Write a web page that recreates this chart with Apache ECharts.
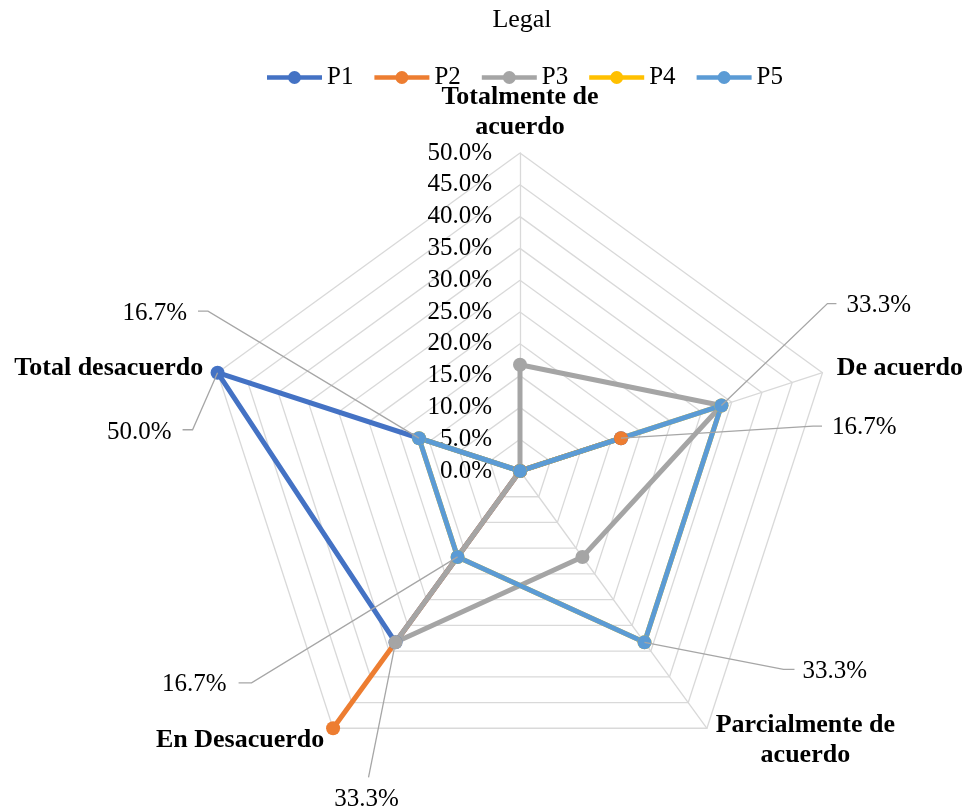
<!DOCTYPE html>
<html>
<head>
<meta charset="utf-8">
<script src="https://cdn.jsdelivr.net/npm/echarts@6/dist/echarts.min.js"></script>
<style>
  html, body { margin: 0; padding: 0; background: #ffffff; }
  #chart { width: 969px; height: 812px; }
</style>
</head>
<body>
<div id="chart"></div>
<script>
// Survey answers (share of respondents, %), one array per question
const categories = ['Totalmente de\nacuerdo', 'De acuerdo', 'Parcialmente de\nacuerdo', 'En Desacuerdo', 'Total desacuerdo'];
const seriesNames = ['P1', 'P2', 'P3', 'P4', 'P5'];
const p1 = [0, 16.7, 0, 33.3, 50.0];
const p2 = [0, 16.7, 0, 50.0, 0];
const p3 = [16.7, 33.3, 16.7, 33.3, 0];
const p4 = [0, 33.3, 33.3, 16.7, 16.7];
const p5 = [0, 33.3, 33.3, 16.7, 16.7];
const tickValues = [0, 5, 10, 15, 20, 25, 30, 35, 40, 45, 50];

// Values that carry a callout label: which question, which answer
const labelledSeries = [4, 1, 4, 2, 4, 0, 4];
const labelledCategories = [1, 1, 2, 3, 3, 4, 4];

const allSeries = [p1, p2, p3, p4, p5];
const colors = ['#4472C4', '#ED7D31', '#A5A5A5', '#FFC000', '#5B9BD5'];
const FONT = '"Liberation Serif", "Times New Roman", serif';

// Radar axes run counter-clockwise in ECharts, so the categories are
// laid out in this order to read clockwise from the top.
const radarOrder = [0, 4, 3, 2, 1];
const dimOf = c => radarOrder.indexOf(c);

// Callout geometry, relative to the labelled point: elbow, tail end, text anchor
const calloutLayout = [
  { elbow: [106, -102], end: [115, -102], text: [125, -100], align: 'left' },
  { elbow: [192, -12], end: [201, -12], text: [211, -11], align: 'left' },
  { elbow: [139, 27], end: [150, 27], text: [158, 29], align: 'left' },
  { elbow: [-27, 135], end: [-27, 135], text: [-29, 157], align: 'center' },
  { elbow: [-206, 126], end: [-219, 126], text: [-231, 128], align: 'right' },
  { elbow: [-25, 57], end: [-35, 57], text: [-46, 60], align: 'right' },
  { elbow: [-211, -127], end: [-221, -127], text: [-232, -125], align: 'right' }
];

const fmtPct = v => v.toFixed(1) + '%';
const maxVal = tickValues[tickValues.length - 1];

const indicator = radarOrder.map((c, k) => {
  const ind = { name: categories[c], min: tickValues[0], max: maxVal };
  if (k === 0) {
    ind.nameGap = 11;
    ind.axisLabel = {
      show: true,
      margin: 28,
      color: '#000000',
      fontFamily: FONT,
      fontSize: 25,
      formatter: v => fmtPct(Number(v))
    };
  }
  return ind;
});

const legendIcon = 'path://M0,4.2H55V8.8H0Z M21,6.5A6.5,6.5 0 1 1 34,6.5A6.5,6.5 0 1 1 21,6.5Z';

const chart = echarts.init(document.getElementById('chart'), null, { renderer: 'canvas' });

const option = {
  animation: false,
  backgroundColor: '#ffffff',
  title: {
    text: 'Legal',
    left: 517,
    top: 2,
    textAlign: 'center',
    textStyle: { fontFamily: FONT, fontSize: 26, fontWeight: 'normal', color: '#000000' }
  },
  legend: {
    top: 60,
    left: 262,
    data: seriesNames,
    icon: legendIcon,
    itemWidth: 55,
    itemHeight: 13,
    itemGap: 21,
    textStyle: { fontFamily: FONT, fontSize: 25, color: '#000000' },
    selectedMode: false
  },
  radar: {
    center: [520, 471],
    radius: 318,
    startAngle: 90,
    shape: 'polygon',
    splitNumber: tickValues.length - 1,
    nameGap: 15,
    indicator: indicator,
    axisName: {
      color: '#000000',
      fontFamily: FONT,
      fontSize: 26,
      fontWeight: 'bold',
      formatter: name => name.split('\n').map(l => '{n|' + l + '}').join('\n'),
      rich: {
        n: { fontFamily: FONT, fontSize: 26, fontWeight: 'bold', color: '#000000', align: 'center', lineHeight: 30 }
      }
    },
    axisLine: { lineStyle: { color: '#D9D9D9', width: 1.3 } },
    splitLine: { lineStyle: { color: '#D9D9D9', width: 1.3 } },
    splitArea: { show: false },
    axisTick: { show: false },
    axisLabel: { show: false }
  },
  series: allSeries.map((vals, i) => ({
    type: 'radar',
    name: seriesNames[i],
    symbol: 'circle',
    symbolSize: 14,
    itemStyle: { color: colors[i] },
    lineStyle: { color: colors[i], width: 5 },
    emphasis: { disabled: true },
    data: [{ name: seriesNames[i], value: radarOrder.map(c => vals[c]) }]
  }))
};

chart.setOption(option);

// Callout labels with leader lines, anchored at the points the radar scale gives
const radarCS = chart.getModel().getComponent('radar', 0).coordinateSystem;
const graphics = [];
labelledSeries.forEach((s, i) => {
  const c = labelledCategories[i];
  const v = allSeries[s][c];
  const pt = radarCS.dataToPoint(v, dimOf(c));
  const L = calloutLayout[i];
  graphics.push({
    type: 'polyline',
    silent: true,
    z: 100,
    shape: { points: [pt, [pt[0] + L.elbow[0], pt[1] + L.elbow[1]], [pt[0] + L.end[0], pt[1] + L.end[1]]] },
    style: { stroke: '#A6A6A6', lineWidth: 1.3, fill: null }
  });
  graphics.push({
    type: 'text',
    silent: true,
    z: 100,
    x: pt[0] + L.text[0],
    y: pt[1] + L.text[1],
    style: {
      text: fmtPct(v),
      fontFamily: FONT,
      fontSize: 25,
      fill: '#000000',
      textAlign: L.align,
      textVerticalAlign: 'middle'
    }
  });
});
chart.setOption({ graphic: graphics });
</script>
</body>
</html>
